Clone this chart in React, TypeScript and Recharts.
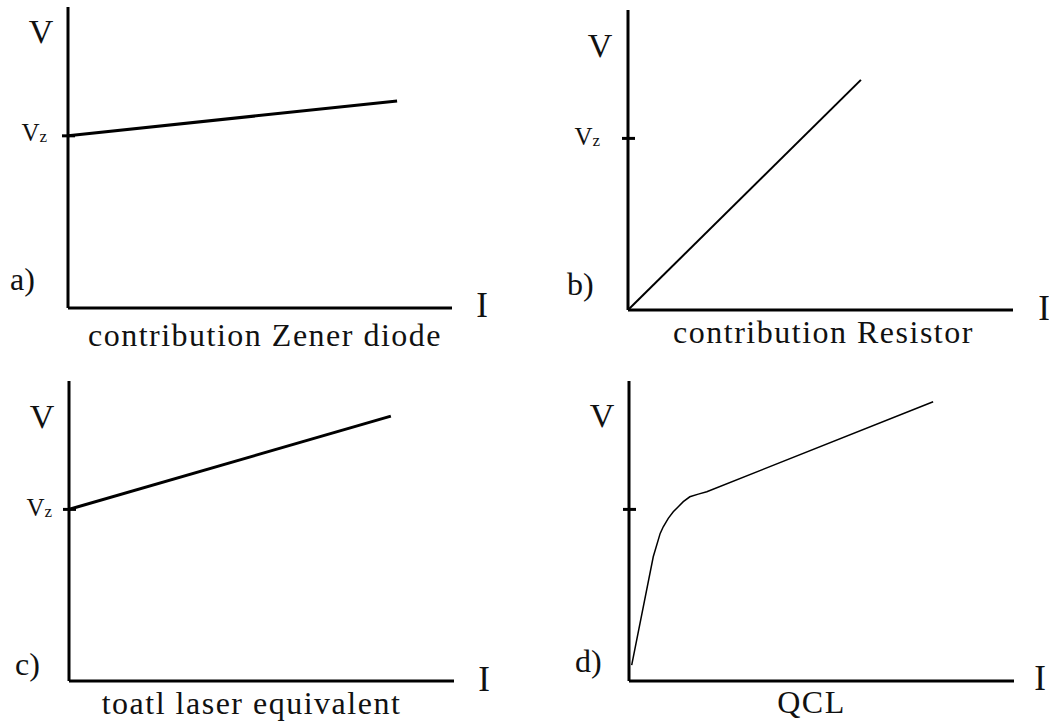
import React from 'react';
import { LineChart, Line, XAxis, YAxis, Label } from 'recharts';

// ---- data (arbitrary units: I and V both on 0..10 scales) ----
const VZ = 5.72;
const I_MAX = 10;
const V_MAX = 10;

const zenerI = [0, 8.57];
const zenerV = [VZ, 6.88];

const resistorI = [0, 6.05];
const resistorV = [0, 7.67];

const totalI = [0, 8.36];
const totalV = [VZ, 8.83];

const qclI = [0.07, 0.63, 0.81, 0.89, 1.02, 1.15, 1.28, 1.41, 1.58, 1.8, 2.02, 7.9];
const qclV = [0.53, 4.14, 4.92, 5.14, 5.42, 5.64, 5.81, 5.98, 6.14, 6.23, 6.31, 9.31];

const titles = ['contribution Zener diode', 'contribution Resistor', 'toatl laser equivalent', 'QCL'];
const panelLetters = ['a)', 'b)', 'c)', 'd)'];
const vAxisName = 'V';
const iAxisName = 'I';
const vzMain = 'V';
const vzSub = 'z';

const toRows = (is: number[], vs: number[]) => is.map((i, k) => ({ i, v: vs[k] }));

const FONT = 'Liberation Serif';
const AXIS_W = 1;

type Cfg = {
  key: string;
  data: { i: number; v: number }[];
  title: string;
  letter: string;
  showVz: boolean;
  left: number;
  top: number;
  width: number;
  height: number;
  margin: { top: number; right: number; bottom: number; left: number };
  lineWidth: number;
  vzDx: number;
  vzDy: number;
  vDx: number;
  vDy: number;
  iDx: number;
  iDy: number;
  letterDx: number;
  letterDy: number;
  titleDx: number;
  titleDy: number;
};

const panels: Cfg[] = [
  {
    key: 'a', data: toRows(zenerI, zenerV), title: titles[0], letter: panelLetters[0], showVz: true,
    left: 0, top: 0, width: 525, height: 364, margin: { top: 7, right: 73, bottom: 56 - AXIS_W, left: 68 - AXIS_W },
    lineWidth: 3,
    vzDx: 21, vzDy: 5, vDx: -27, vDy: 36, iDx: 30, iDy: 9, letterDx: -58, letterDy: -18, titleDx: 5, titleDy: 38,
  },
  {
    key: 'b', data: toRows(resistorI, resistorV), title: titles[1], letter: panelLetters[1], showVz: true,
    left: 525, top: 0, width: 524, height: 364, margin: { top: 10, right: 36, bottom: 54 - AXIS_W, left: 103 - AXIS_W },
    lineWidth: 2,
    vzDx: 28, vzDy: 7, vDx: -28, vDy: 47, iDx: 31, iDy: 10, letterDx: -61, letterDy: -15, titleDx: 3, titleDy: 33,
  },
  {
    key: 'c', data: toRows(totalI, totalV), title: titles[2], letter: panelLetters[2], showVz: true,
    left: 0, top: 364, width: 525, height: 364, margin: { top: 17, right: 71, bottom: 47 - AXIS_W, left: 69 - AXIS_W },
    lineWidth: 3,
    vzDx: 17, vzDy: 7, vDx: -27, vDy: 47, iDx: 30, iDy: 10, letterDx: -54, letterDy: -6, titleDx: -10, titleDy: 33,
  },
  {
    key: 'd', data: toRows(qclI, qclV), title: titles[3], letter: panelLetters[3], showVz: false,
    left: 525, top: 364, width: 524, height: 364, margin: { top: 17, right: 35, bottom: 47 - AXIS_W, left: 104 - AXIS_W },
    lineWidth: 1.5,
    vzDx: 20, vzDy: 7, vDx: -27, vDy: 46, iDx: 26, iDy: 9, letterDx: -54, letterDy: -9, titleDx: -10, titleDy: 32,
  },
];

const VzTick = (props: any) => {
  const { x, y, cfg } = props;
  return (
    <g>
      <line x1={x - 6} x2={x + 7} y1={y} y2={y} stroke="#000" strokeWidth={3} />
      {cfg.showVz && (
        <text x={x - cfg.vzDx} y={y + cfg.vzDy} textAnchor="end" fontFamily={FONT} fontSize={25} fill="#111">
          {vzMain}
          <tspan fontFamily={FONT} fontSize={17} dy={1}>{vzSub}</tspan>
        </text>
      )}
    </g>
  );
};

const Panel = ({ cfg }: { cfg: Cfg }) => (
  <div style={{ position: 'absolute', left: cfg.left, top: cfg.top, width: cfg.width, height: cfg.height }}>
    <LineChart width={cfg.width} height={cfg.height} data={cfg.data} margin={cfg.margin}>
      <XAxis
        type="number"
        dataKey="i"
        domain={[0, I_MAX]}
        allowDataOverflow
        height={AXIS_W}
        tick={false}
        tickLine={false}
        axisLine={{ stroke: '#000', strokeWidth: 3 }}
      >
        <Label
          content={(p: any) => {
            const vb = p.viewBox || {};
            return (
              <g>
                <text x={vb.x + vb.width / 2 + cfg.titleDx} y={vb.y + cfg.titleDy} textAnchor="middle" fontFamily={FONT} fontSize={32} letterSpacing={1.5} fill="#111">
                  {cfg.title}
                </text>
                <text x={vb.x + vb.width + cfg.iDx} y={vb.y + cfg.iDy} textAnchor="middle" fontFamily={FONT} fontSize={35} fill="#111">
                  {iAxisName}
                </text>
                <text x={vb.x + cfg.letterDx} y={vb.y + cfg.letterDy} textAnchor="start" fontFamily={FONT} fontSize={32} fill="#111">
                  {cfg.letter}
                </text>
              </g>
            );
          }}
        />
      </XAxis>
      <YAxis
        type="number"
        dataKey="v"
        domain={[0, V_MAX]}
        allowDataOverflow
        width={AXIS_W}
        ticks={[VZ]}
        tickSize={0}
        tickMargin={0}
        tickLine={false}
        tick={(p: any) => <VzTick {...p} cfg={cfg} />}
        axisLine={{ stroke: '#000', strokeWidth: 3 }}
      >
        <Label
          content={(p: any) => {
            const vb = p.viewBox || {};
            return (
              <text x={vb.x + vb.width + cfg.vDx} y={vb.y + cfg.vDy} textAnchor="middle" fontFamily={FONT} fontSize={34} fill="#111">
                {vAxisName}
              </text>
            );
          }}
        />
      </YAxis>
      <Line
        type="linear"
        dataKey="v"
        stroke="#000"
        strokeWidth={cfg.lineWidth}
        dot={false}
        activeDot={false}
        isAnimationActive={false}
      />
    </LineChart>
  </div>
);

export default function App() {
  return (
    <div style={{ position: 'absolute', left: 0, top: 0, width: 1049, height: 728, background: '#fff' }}>
      {panels.map((cfg) => (
        <Panel key={cfg.key} cfg={cfg} />
      ))}
    </div>
  );
}
